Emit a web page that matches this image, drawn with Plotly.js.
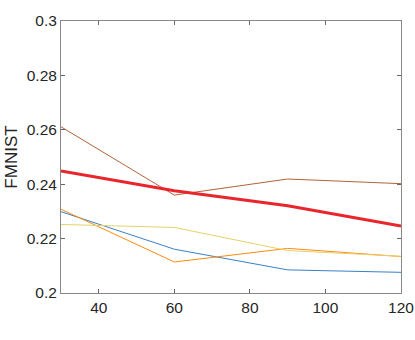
<!DOCTYPE html>
<html><head><meta charset="utf-8">
<script src="https://cdn.plot.ly/plotly-3.0.1.min.js"></script>
<style>body{margin:0;background:#fff}#c{width:415px;height:340px}</style>
</head><body><div id="c"></div>
<script>
var xs = [30, 60, 90, 120];
var blue = [0.2299, 0.2161, 0.2085, 0.2076];
var orange = [0.2308, 0.2114, 0.2164, 0.2134];
var yellow = [0.2252, 0.2241, 0.2156, 0.2135];
var brown = [0.2611, 0.2360, 0.2419, 0.2402];
var red = [0.2449, 0.2376, 0.2321, 0.2246];
var yTickVals = [0.2, 0.22, 0.24, 0.26, 0.28, 0.3];
var yTickText = ["0.2", "0.22", "0.24", "0.26", "0.28", "0.3"];
var xTickVals = [40, 60, 80, 100, 120];
var xTickText = ["40", "60", "80", "100", "120"];

function tr(y, color, w) {
  return {x: xs, y: y, type: 'scatter', mode: 'lines', line: {color: color, width: w}, hoverinfo: 'skip'};
}
var data = [
  tr(blue, '#3a80c4', 1),
  tr(orange, '#ff8a10', 1),
  tr(yellow, '#e8d06a', 1),
  tr(brown, '#b0643a', 1),
  tr(red, '#e8262c', 3)
];
var axFont = {family: 'Liberation Sans, Arial, sans-serif', size: 15.5, color: '#262626'};
var layout = {
  width: 415, height: 340,
  margin: {l: 61, r: 14, t: 21, b: 47},
  paper_bgcolor: '#fff', plot_bgcolor: '#fff',
  showlegend: false,
  font: axFont,
  xaxis: {
    range: [30, 120], tickvals: xTickVals, ticktext: xTickText,
    ticks: 'inside', ticklen: 4, tickcolor: '#666', tickwidth: 1,
    showline: true, linecolor: '#888', linewidth: 1, mirror: 'ticks',
    showgrid: false, zeroline: false, tickfont: axFont
  },
  yaxis: {
    range: [0.2, 0.3], tickvals: yTickVals, ticktext: yTickText,
    ticks: 'inside', ticklen: 4, tickcolor: '#666', tickwidth: 1,
    showline: true, linecolor: '#888', linewidth: 1, mirror: 'ticks',
    showgrid: false, zeroline: false, tickfont: axFont,
    title: {text: 'FMNIST', font: {family: 'Liberation Sans, Arial, sans-serif', size: 17, color: '#262626'}, standoff: 4}
  }
};
Plotly.newPlot('c', data, layout, {staticPlot: true});
</script></body></html>
